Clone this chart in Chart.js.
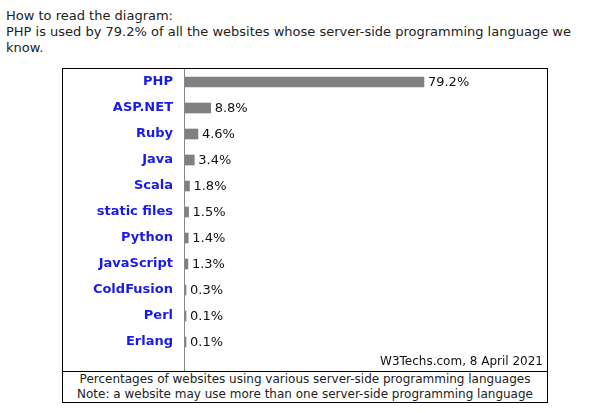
<!DOCTYPE html>
<html>
<head>
<meta charset="utf-8">
<script src="https://cdn.jsdelivr.net/npm/chart.js@4"></script>
<style>
    body { margin: 0; background: #fff; font-family: "DejaVu Sans", Verdana, sans-serif; color: #222; }
    .intro { position: absolute; left: 6px; top: 8px; font-size: 13px; line-height: 16px; white-space: nowrap; }
    .box { position: absolute; left: 62px; top: 68px; width: 486px; height: 335px; border: 1px solid #000; box-sizing: border-box; }
    .chart-wrap { position: relative; width: 484px; height: 302px; }
    .footer { border-top: 1px solid #000; text-align: center; font-size: 12px; line-height: 15px; padding-top: 0px; white-space: nowrap; }
</style>
</head>
<body>
<div class="intro">How to read the diagram:<br>PHP is used by 79.2% of all the websites whose server-side programming language we<br>know.</div>
<div class="box">
    <div class="chart-wrap"><canvas id="langs"></canvas></div>
    <div class="footer">Percentages of websites using various server-side programming languages<br>Note: a website may use more than one server-side programming language</div>
</div>
<script>
let languages = ['PHP', 'ASP.NET', 'Ruby', 'Java', 'Scala', 'static files', 'Python', 'JavaScript', 'ColdFusion', 'Perl', 'Erlang'];
let shares = [79.2, 8.8, 4.6, 3.4, 1.8, 1.5, 1.4, 1.3, 0.3, 0.1, 0.1];
let source = 'W3Techs.com, 8 April 2021';

// value text after each bar
let valueLabels = {
    id: 'valueLabels',
    afterDatasetsDraw(chart) {
        let ctx = chart.ctx;
        let meta = chart.getDatasetMeta(0);
        ctx.save();
        ctx.font = '13px "DejaVu Sans"';
        ctx.fillStyle = '#111';
        ctx.textAlign = 'left';
        ctx.textBaseline = 'middle';
        meta.data.forEach((bar, i) => {
            ctx.fillText(shares[i].toFixed(1) + '%', bar.x + 4, bar.y + 1);
        });
        ctx.restore();
    }
};

// axis line running the full height of the box
let axisLine = {
    id: 'axisLine',
    afterDraw(chart) {
        let ctx = chart.ctx;
        let x = Math.round(chart.chartArea.left) + 0.5;
        ctx.save();
        ctx.strokeStyle = '#888';
        ctx.lineWidth = 1;
        ctx.beginPath();
        ctx.moveTo(x, 0);
        ctx.lineTo(x, chart.height);
        ctx.stroke();
        ctx.restore();
    }
};

new Chart(document.getElementById('langs'), {
    type: 'bar',
    data: {
        labels: languages,
        datasets: [{
            data: shares,
            backgroundColor: '#808080',
            barThickness: 10,
            minBarLength: 2
        }]
    },
    options: {
        indexAxis: 'y',
        responsive: true,
        maintainAspectRatio: false,
        animation: false,
        layout: { padding: { left: 0, right: 4, top: 0, bottom: 0 } },
        scales: {
            x: { display: false, min: 0, max: 118.5 },
            y: {
                grid: { display: false, drawTicks: false },
                border: { display: false },
                ticks: {
                    padding: 11,
                    color: '#1a1ae6',
                    font: { family: 'DejaVu Sans', size: 13, weight: 'bold' }
                },
                afterFit(scale) {
                    scale.width = 121;
                    scale.paddingTop = 0;
                    scale.paddingBottom = 0;
                }
            }
        },
        plugins: {
            legend: { display: false },
            tooltip: { enabled: false },
            title: {
                display: true,
                text: source,
                position: 'bottom',
                align: 'end',
                color: '#111',
                font: { family: 'DejaVu Sans', size: 12, weight: 'normal' },
                padding: { top: 0, bottom: 1.6 }
            }
        }
    },
    plugins: [valueLabels, axisLine]
});
</script>
</body>
</html>
